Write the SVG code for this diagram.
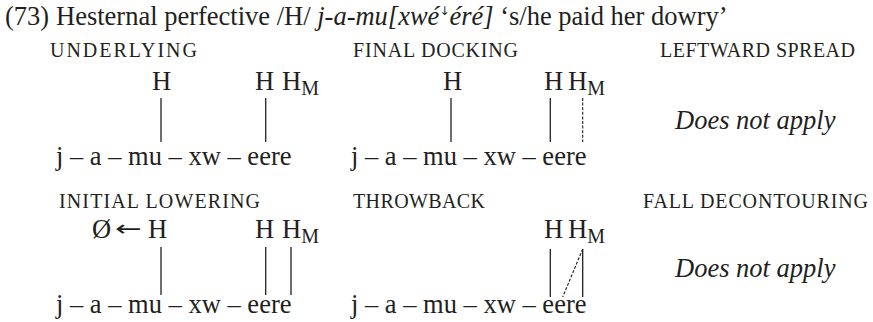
<svg xmlns="http://www.w3.org/2000/svg" width="873" height="322" viewBox="0 0 873 322">
  <style>
    text { font-family: "Liberation Serif", "Times New Roman", serif; fill: #231f20; }
    .t { font-size: 26.5px; }
    .sc { font-size: 20px; }
    .sub { font-size: 20px; }
    .it { font-style: italic; }
    .arrow { font-family: "DejaVu Sans", sans-serif; font-size: 22px; }
    .assoc { stroke: #231f20; stroke-width: 1.3; fill: none; }
    .float { stroke: #231f20; stroke-width: 1.1; fill: none; stroke-dasharray: 3 1.6; }
  </style>
  <rect width="873" height="322" fill="#ffffff"/>

  <!-- example heading -->
  <g id="title">
    <text class="t" x="5" y="25">(73)</text>
    <text class="t" x="56" y="25">Hesternal perfective /H/ <tspan class="it">j-a-mu[xwé<tspan font-family="DejaVu Sans, sans-serif" font-style="normal" font-size="12" dy="-10">↓</tspan><tspan dy="10">éré]</tspan></tspan> ‘s/he paid her dowry’</text>
  </g>

  <!-- row 1 -->
  <g id="underlying">
    <text class="sc" x="50" y="57" textLength="147" lengthAdjust="spacing">UNDERLYING</text>
    <text class="t" x="152" y="90">H</text>
    <text class="t" x="255" y="90">H</text>
    <text class="t" x="282" y="90">H<tspan class="sub" dy="5">M</tspan></text>
    <text class="t" x="56" y="165">j – a – mu – xw – eere</text>
  </g>

  <g id="final-docking">
    <text class="sc" x="353" y="57" textLength="165" lengthAdjust="spacing">FINAL DOCKING</text>
    <text class="t" x="443" y="90">H</text>
    <text class="t" x="544" y="90">H</text>
    <text class="t" x="568" y="90">H<tspan class="sub" dy="5">M</tspan></text>
    <text class="t" x="351" y="165">j – a – mu – xw – eere</text>
  </g>

  <g id="leftward-spread">
    <text class="sc" x="660" y="57" textLength="195" lengthAdjust="spacing">LEFTWARD SPREAD</text>
    <text class="t it" x="675" y="129">Does not apply</text>
  </g>

  <!-- row 2 -->
  <g id="initial-lowering">
    <text class="sc" x="59" y="208" textLength="201" lengthAdjust="spacing">INITIAL LOWERING</text>
    <text class="t" x="92" y="238">Ø</text>
    <text class="arrow" transform="translate(115,236) scale(1.45,1)">←</text>
    <text class="t" x="148" y="238">H</text>
    <text class="t" x="255" y="238">H</text>
    <text class="t" x="282" y="238">H<tspan class="sub" dy="5">M</tspan></text>
    <text class="t" x="56" y="313">j – a – mu – xw – eere</text>
  </g>

  <g id="throwback">
    <text class="sc" x="353" y="208" textLength="132" lengthAdjust="spacing">THROWBACK</text>
    <text class="t" x="544" y="238">H</text>
    <text class="t" x="568" y="238">H<tspan class="sub" dy="5">M</tspan></text>
    <text class="t" x="351" y="313">j – a – mu – xw – eere</text>
  </g>

  <g id="fall-decontouring">
    <text class="sc" x="643" y="208" textLength="225" lengthAdjust="spacing">FALL DECONTOURING</text>
    <text class="t it" x="675" y="277">Does not apply</text>
  </g>

  <!-- association lines -->
  <g id="connectors">
    <line class="assoc" x1="161" y1="98" x2="161" y2="142"/>
    <line class="assoc" x1="265.7" y1="98" x2="265.7" y2="142"/>

    <line class="assoc" x1="451" y1="98" x2="451" y2="142"/>
    <line class="assoc" x1="550.3" y1="98" x2="550.3" y2="142"/>
    <line class="float" x1="582.7" y1="98" x2="582.7" y2="142"/>

    <line class="assoc" x1="161" y1="247" x2="161" y2="295"/>
    <line class="assoc" x1="265.7" y1="247" x2="265.7" y2="295"/>
    <line class="assoc" x1="291" y1="247" x2="291" y2="295"/>

    <line class="assoc" x1="550.3" y1="249" x2="550.3" y2="297"/>
    <line class="float" x1="582.7" y1="249" x2="562.7" y2="297"/>
    <line class="assoc" x1="582.7" y1="249" x2="582.7" y2="297"/>
  </g>
</svg>
